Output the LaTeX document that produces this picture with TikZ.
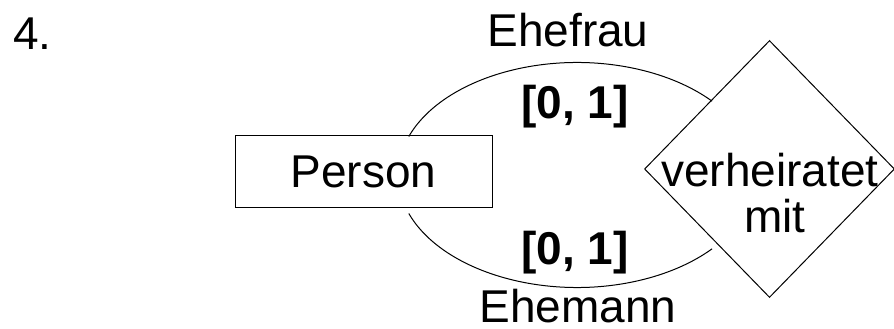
\documentclass[tikz,border=0pt]{standalone}
\usepackage{fontspec}
\setmainfont{Liberation Sans}
\usetikzlibrary{shapes.geometric,calc}
\tikzset{
  txt/.style={inner sep=0pt, font=\fontsize{46}{46}\selectfont},
  btxt/.style={inner sep=0pt, font=\fontsize{46}{46}\selectfont\bfseries},
  entity/.style={draw, line width=1pt, minimum width=257pt, minimum height=72pt, inner sep=0pt},
  rel/.style={draw, diamond, line width=1pt, minimum width=250pt, minimum height=257pt, inner sep=0pt},
  conn/.style={line width=1pt}
}
\begin{document}
\begin{tikzpicture}[x=1pt,y=1pt]
\useasboundingbox (0,0) rectangle (894,329);
\node[txt, anchor=base west] (num) at (13,279) {4.};
\node[entity] (person) at (363.5,157) {};
\node[txt] (personlbl) at (person.center) {Person};
\node[rel] (married) at (769.5,160) {};
\node[txt, anchor=base] (verh) at (770,142) {verheiratet};
\node[txt, anchor=base] (mit) at (775,96) {mit};
\coordinate (ec) at (577,154);
\coordinate (up) at ($(ec)+(160:179 and 112.5)$);
\coordinate (lo) at ($(ec)+(200:179 and 112.5)$);
\draw[conn] (up) arc[start angle=160, end angle=41, x radius=179, y radius=112.5];
\draw[conn] (lo) arc[start angle=200, end angle=319, x radius=179, y radius=112.5];
\node[txt, anchor=base] (frau) at (568,282) {Ehefrau};
\node[btxt, anchor=base] (card1) at (575,210) {[0, 1]};
\node[btxt, anchor=base] (card2) at (575,64) {[0, 1]};
\node[txt, anchor=base] (mann) at (578,6) {Ehemann};
\end{tikzpicture}
\end{document}
